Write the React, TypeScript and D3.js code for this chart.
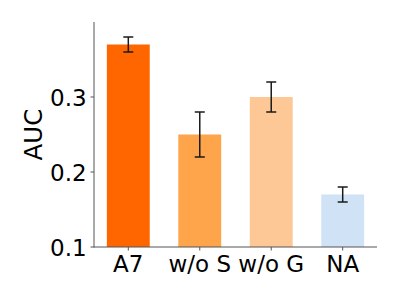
import React, { useEffect, useRef } from "react";
import * as d3 from "d3";

const categories = ["A7", "w/o S", "w/o G", "NA"];
const aucValues = [0.37, 0.25, 0.3, 0.17];
const errLow = [0.36, 0.22, 0.28, 0.16];
const errHigh = [0.38, 0.28, 0.32, 0.18];
const barColors = ["#ff6600", "#fea44b", "#fdc895", "#cfe2f6"];
const yTicks = [0.1, 0.2, 0.3];

const W = 399;
const H = 299;

const App = () => {
  const svgRef = useRef<SVGSVGElement | null>(null);

  useEffect(() => {
    const svg = d3.select(svgRef.current);
    svg.selectAll("*").remove();

    const left = 94;
    const right = 377;
    const top = 22;
    const bottom = 247;

    // bar width 0.6 of a slot, matplotlib style 5% margins
    const x = d3.scaleLinear().domain([-0.48, 3.48]).range([left, right]);
    const y = d3.scaleLinear().domain([0.1, 0.4]).range([bottom, top]);
    const bw = x(0.3) - x(-0.3);

    const font = "DejaVu Sans, sans-serif";

    svg.append("g")
      .selectAll("rect")
      .data(aucValues)
      .join("rect")
      .attr("x", (d, i) => x(i) - bw / 2)
      .attr("y", (d) => y(d))
      .attr("width", bw)
      .attr("height", (d) => bottom - y(d))
      .attr("fill", (d, i) => barColors[i]);

    const err = svg.append("g").attr("stroke", "#1a1a1a").attr("stroke-width", 1.5);
    categories.forEach((c, i) => {
      const cx = x(i);
      err.append("line").attr("x1", cx).attr("x2", cx).attr("y1", y(errLow[i])).attr("y2", y(errHigh[i]));
      [errLow[i], errHigh[i]].forEach((v) => {
        err.append("line").attr("x1", cx - 5).attr("x2", cx + 5).attr("y1", y(v)).attr("y2", y(v));
      });
    });

    // spines
    svg.append("line")
      .attr("x1", left).attr("x2", left).attr("y1", top).attr("y2", bottom + 0.5)
      .attr("stroke", "#555").attr("stroke-width", 1);
    svg.append("line")
      .attr("x1", left).attr("x2", right).attr("y1", bottom).attr("y2", bottom)
      .attr("stroke", "#555").attr("stroke-width", 1);

    // y ticks
    const yt = svg.append("g");
    yTicks.forEach((t) => {
      yt.append("line")
        .attr("x1", left - 3.5).attr("x2", left).attr("y1", y(t)).attr("y2", y(t))
        .attr("stroke", "#555");
      yt.append("text")
        .attr("x", left - 7.3).attr("y", y(t) + 1).attr("dy", "0.36em")
        .attr("text-anchor", "end")
        .attr("font-family", font).attr("font-size", 23).attr("fill", "#000")
        .text(d3.format(".1f")(t));
    });

    // x ticks
    const xt = svg.append("g");
    categories.forEach((c, i) => {
      xt.append("line")
        .attr("x1", x(i)).attr("x2", x(i)).attr("y1", bottom).attr("y2", bottom + 3.5)
        .attr("stroke", "#555");
      xt.append("text")
        .attr("x", x(i)).attr("y", bottom + 24.5)
        .attr("text-anchor", "middle")
        .attr("font-family", font).attr("font-size", 23).attr("fill", "#000")
        .text(c);
    });

    svg.append("text")
      .attr("transform", `translate(42,${(top + bottom) / 2}) rotate(-90)`)
      .attr("text-anchor", "middle")
      .attr("font-family", font).attr("font-size", 24.5).attr("fill", "#000")
      .text("AUC");
  }, []);

  return (
    <svg
      ref={svgRef}
      width={W}
      height={H}
      style={{ position: "absolute", left: 0, top: 0, background: "#fff" }}
    />
  );
};

export default App;
